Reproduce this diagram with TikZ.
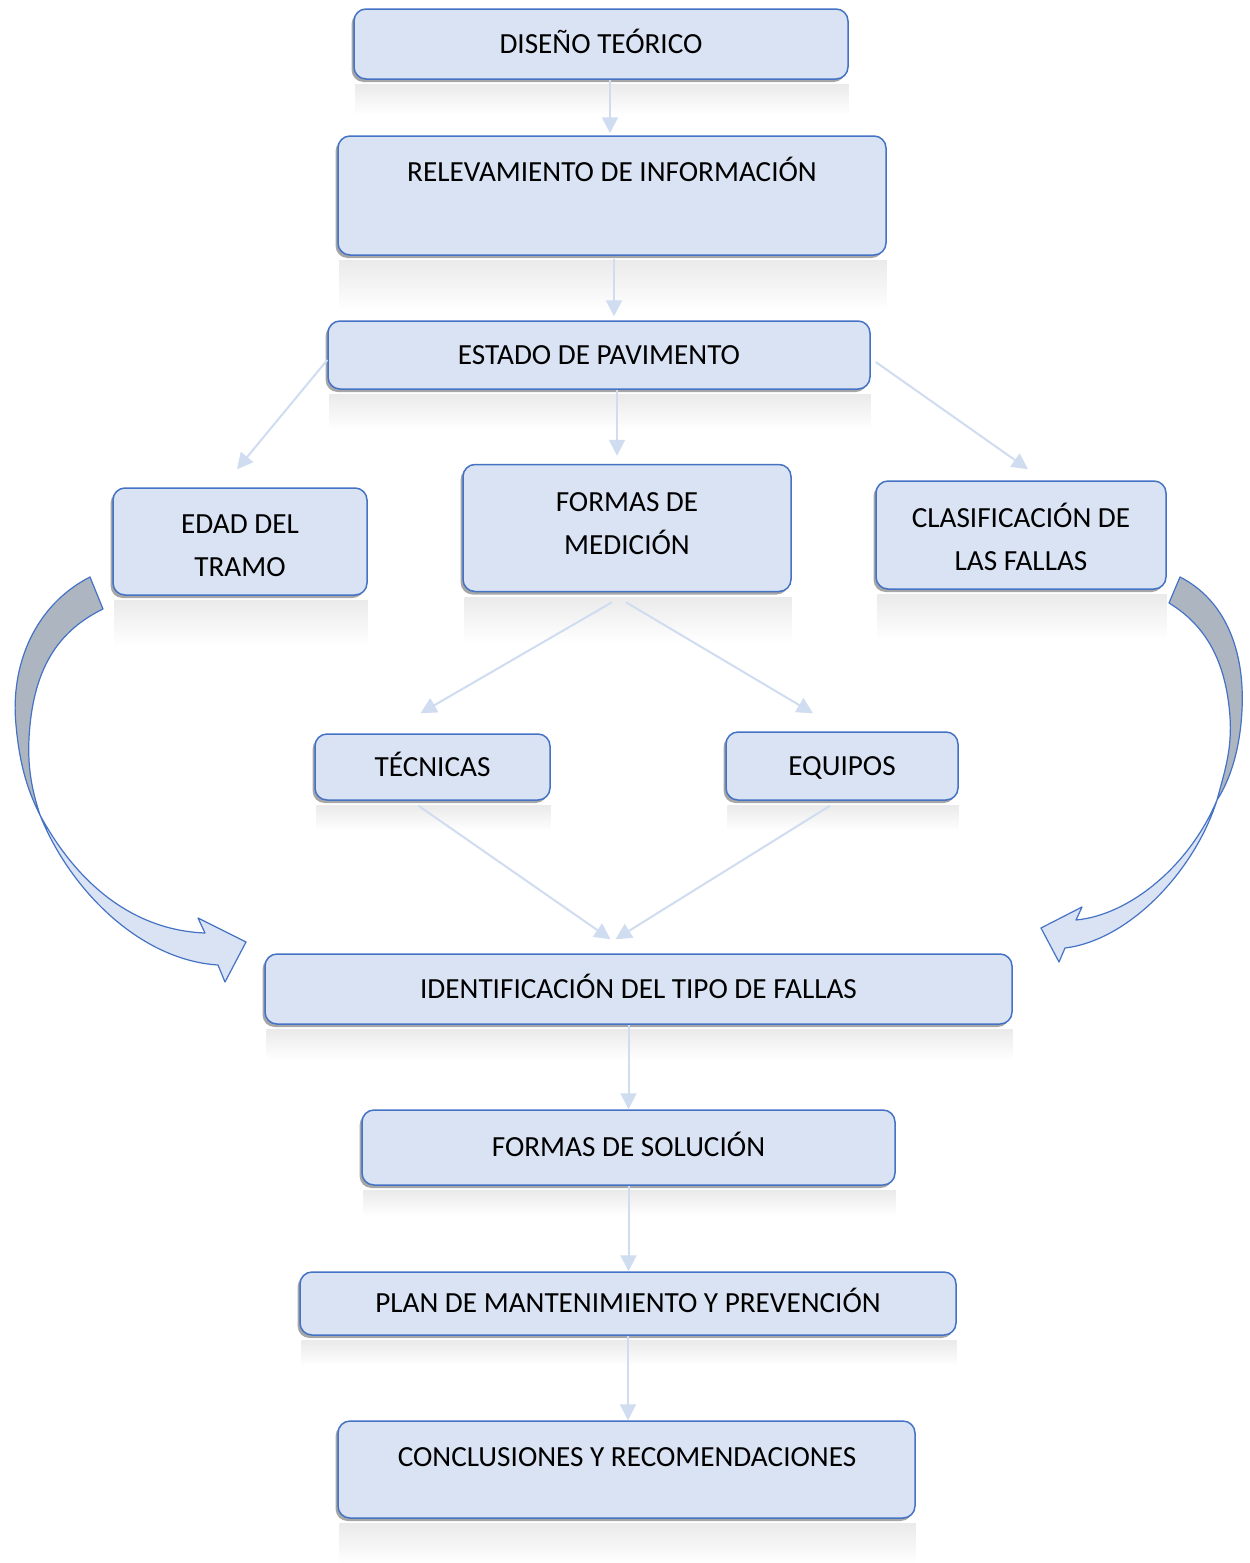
\documentclass[tikz,border=0pt]{standalone}
\usepackage{fontspec}
\setmainfont{Carlito}
\usetikzlibrary{calc,shadows,arrows.meta}
\definecolor{boxfill}{HTML}{DAE3F3}
\definecolor{boxline}{HTML}{4472C4}
\definecolor{conncol}{HTML}{D0DCF0}
\definecolor{ribgray}{HTML}{ADB5C1}
\begin{document}
\begin{tikzpicture}[x=0.5pt,y=-0.5pt,
  box/.style={draw=boxline, fill=boxfill, line width=0.75pt, rounded corners=6pt,
    align=center, inner sep=0pt, font=\fontsize{14.6}{21.5}\selectfont,
    text height=9.4pt, text depth=0pt,
    drop shadow={shadow xshift=-1.2pt, shadow yshift=-1.5pt, opacity=0.35, fill=black}},
  lbl/.style={inner sep=0pt, align=center, font=\fontsize{14.6}{21.5}\selectfont},
  conn/.style={draw=conncol, line width=1pt, -{Triangle[length=8pt,width=8pt]}},
  ribbon/.style={draw=boxline, line width=0.6pt, line join=round}
]
\useasboundingbox[fill=white] (0,0) rectangle (1249,1563);

% boxes
\node[box, minimum width=247pt, minimum height=35pt] (d) at (601,44) {DISEÑO TEÓRICO};
\node[box, minimum width=274pt, minimum height=59.5pt] (r) at (612,195.5) {};
\node[lbl, text height=9.4pt, text depth=0pt] (rt) at (612,172) {RELEVAMIENTO DE INFORMACIÓN};
\node[box, minimum width=271pt, minimum height=34pt] (e) at (599,355) {ESTADO DE PAVIMENTO};
\node[box, minimum width=127pt, minimum height=53.5pt] (a) at (240,541.5) {};
\node[lbl] (at) at (240,546) {EDAD DEL\\TRAMO};
\node[box, minimum width=164pt, minimum height=63.5pt] (m) at (627,528) {};
\node[lbl] (mt) at (627,523.5) {FORMAS DE\\MEDICIÓN};
\node[box, minimum width=145pt, minimum height=54pt] (c) at (1021,535) {};
\node[lbl] (ct) at (1021,537) {CLASIFICACIÓN DE\\LAS FALLAS};
\node[box, minimum width=117.5pt, minimum height=33pt] (t) at (432.5,767) {TÉCNICAS};
\node[box, minimum width=116pt, minimum height=34pt] (q) at (842,766) {EQUIPOS};
\node[box, minimum width=373.5pt, minimum height=35pt] (i) at (638.5,989) {IDENTIFICACIÓN DEL TIPO DE FALLAS};
\node[box, minimum width=266.5pt, minimum height=37.5pt] (s) at (628.5,1147.5) {FORMAS DE SOLUCIÓN};
\node[box, minimum width=328pt, minimum height=31.5pt] (p) at (628,1303.5) {PLAN DE MANTENIMIENTO Y PREVENCIÓN};
\node[box, minimum width=288.5pt, minimum height=48.5pt] (k) at (626.5,1469.5) {};
\node[lbl, text height=9.4pt, text depth=0pt] (kt) at (627,1457) {CONCLUSIONES Y RECOMENDACIONES};

% faint reflections
\foreach \n/\h in {d/35, r/55, e/40, a/50, m/50, c/50, t/30, q/30, i/35, s/30, p/30, k/45}
  \shade[top color=black!8, bottom color=white]
    ($(\n.south west)+(2,5)$) rectangle ($(\n.south east)+(0,\h)$);

% connectors
\draw[conn] ($(d.south)+(9,0)$) -- ($(r.north)+(-2,-2)$);
\draw[conn] ($(r.south)+(2,3)$) -- ($(e.north)+(15,-4)$);
\draw[conn] ($(e.west)+(0,5)$) -- ($(a.north)+(-3,-18)$);
\draw[conn] ($(e.south)+(18,0)$) -- ($(m.north)+(-10,-8)$);
\draw[conn] ($(e.east)+(5,7)$) -- ($(c.north)+(7,-11)$);
\draw[conn] ($(m.south)+(-15,10)$) -- ($(t.north)+(-12,-20)$);
\draw[conn] ($(m.south)+(-1,10)$) -- ($(q.north)+(-29,-18)$);
\draw[conn] ($(t.south)+(-14,5)$) -- ($(i.north)+(-28,-14)$);
\draw[conn] ($(q.south)+(-12,5)$) -- ($(i.north)+(-23,-14)$);
\draw[conn] ($(i.south)+(-10,0)$) -- (s.north);
\draw[conn] (s.south) -- (s.south |- p.north);
\draw[conn] (p.south) -- (p.south |- k.north);

% left curved ribbon arrow
\filldraw[ribbon, fill=ribgray] (90,577) .. controls (35,605) and (10,665) .. (16,725)
  .. controls (20,770) and (30,795) .. (40,815)
  .. controls (32,790) and (26,765) .. (30,725)
  .. controls (36,665) and (60,630) .. (103,609) -- cycle;
\filldraw[ribbon, fill=boxfill] (40,815) .. controls (70,890) and (140,960) .. (218,965)
  -- (225,982) -- (246,942) -- (198,918) -- (205,933)
  .. controls (130,930) and (75,880) .. (40,815) -- cycle;

% right curved ribbon arrow
\filldraw[ribbon, fill=ribgray] (1180,577) .. controls (1225,600) and (1245,650) .. (1242,710)
  .. controls (1240,750) and (1230,780) .. (1217,800)
  .. controls (1225,770) and (1232,750) .. (1230,717)
  .. controls (1226,660) and (1205,625) .. (1169,603) -- cycle;
\filldraw[ribbon, fill=boxfill] (1217,800) .. controls (1195,870) and (1130,940) .. (1065,948)
  -- (1059,962) -- (1041,928) -- (1082,907) -- (1076,920)
  .. controls (1130,915) and (1190,865) .. (1217,800) -- cycle;
\end{tikzpicture}
\end{document}
